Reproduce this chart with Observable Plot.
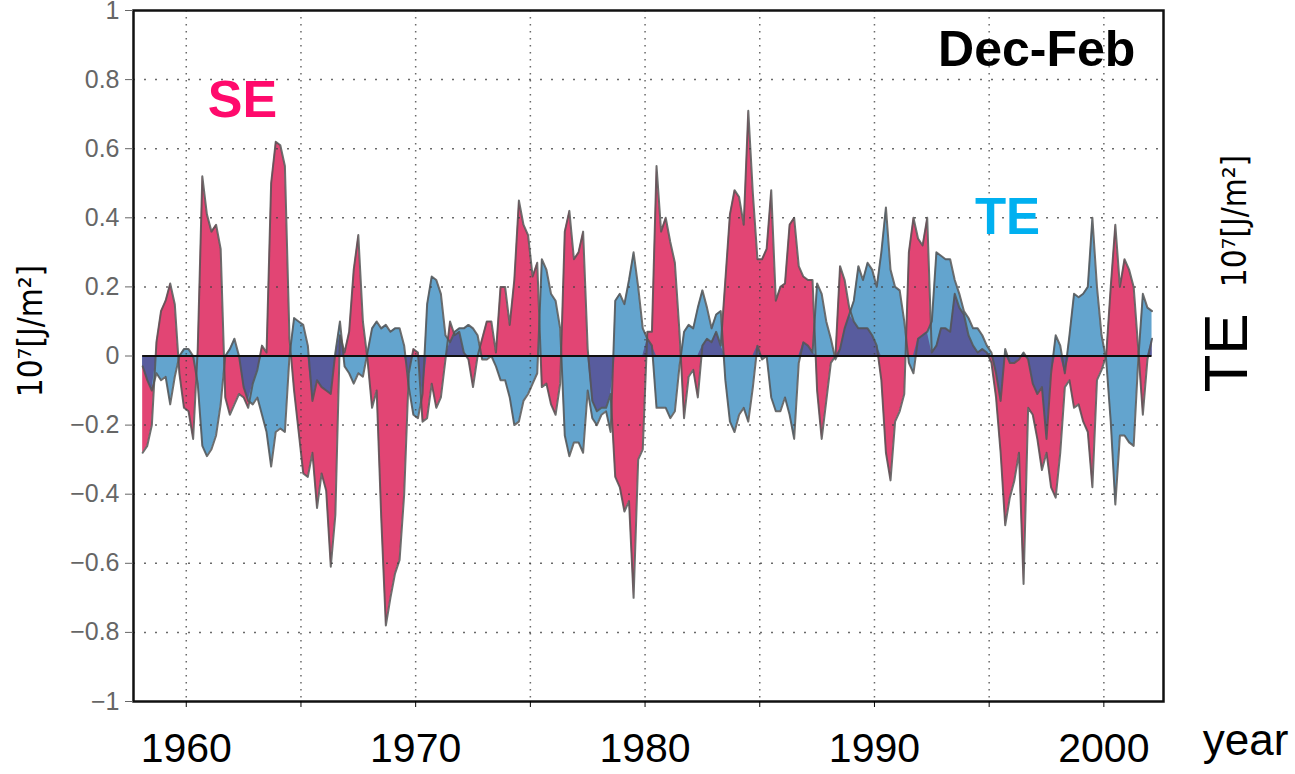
<!DOCTYPE html>
<html><head><meta charset="utf-8">
<script src="https://cdn.jsdelivr.net/npm/d3@7"></script>
<script src="https://cdn.jsdelivr.net/npm/@observablehq/plot@0.6"></script>
<style>body{margin:0;background:#fff;overflow:hidden}</style>
</head><body><div id="chart"></div>
<script>
// sampling: one value every 0.2 year starting 1958.1
const startYear = 1958.1, stepYear = 0.2;

const se = [
 -0.28,-0.26,-0.2,0.04,0.13,
 0.16,0.21,0.15,-0.05,-0.15,
 -0.16,-0.24,0.02,0.52,0.41,
 0.36,0.38,0.31,-0.12,-0.17,
 -0.14,-0.11,-0.12,-0.15,-0.08,
 -0.04,0.03,0.01,0.5,0.62,
 0.61,0.55,0.05,-0.1,-0.22,
 -0.34,-0.35,-0.28,-0.44,-0.34,
 -0.39,-0.61,-0.46,0.06,0.01,
 0.07,0.25,0.35,0.1,-0.01,
 -0.15,-0.1,-0.47,-0.78,-0.70,
 -0.63,-0.59,-0.4,-0.05,0.02,
 0.01,-0.19,-0.18,-0.08,-0.15,
 -0.12,-0.01,0.1,0.06,0.07,
 0.01,-0.01,-0.09,0,0.05,
 0.1,0.1,0.01,0.2,0.2,
 0.09,0.22,0.45,0.38,0.35,
 0.23,0.27,-0.09,-0.08,-0.14,
 -0.17,-0.08,0.36,0.42,0.28,
 0.3,0.36,0.02,-0.13,-0.16,
 -0.15,-0.15,-0.11,-0.35,-0.38,
 -0.45,-0.42,-0.70,-0.3,-0.27,
 0.07,0.07,0.55,0.36,0.40,
 0.33,0.27,0.07,-0.18,-0.06,
 -0.04,-0.12,0.03,0.05,0.04,
 0.07,0.03,0.22,0.41,0.48,
 0.46,0.38,0.71,0.47,0.28,
 0.28,0.31,0.48,0.16,0.2,
 0.21,0.38,0.40,0.26,0.23,
 0.22,0.22,-0.1,-0.24,-0.13,
 -0.02,0,0.26,0.22,0.14,
 0.1,0.08,0.08,0.08,0.06,
 0.03,-0.07,-0.28,-0.36,-0.19,
 -0.16,-0.11,0.3,0.4,0.34,
 0.32,0.4,0.01,0.03,0.08,
 0.08,0.07,0.18,0.14,0.12,
 0.06,0.03,0.01,0.02,0.01,
 -0.02,-0.12,-0.28,-0.49,-0.41,
 -0.36,-0.28,-0.66,-0.15,-0.17,
 -0.24,-0.33,-0.28,-0.38,-0.41,
 -0.28,-0.09,-0.07,-0.15,-0.14,
 -0.19,-0.22,-0.38,-0.07,-0.04,
 0,0.2,0.38,0.2,0.28,
 0.25,0.2,0.02,-0.17,-0.01,
 0.05
];

const te = [
 -0.03,-0.07,-0.1,-0.05,-0.07,
 -0.06,-0.14,-0.06,0.0,0.02,
 0.02,0.0,-0.08,-0.26,-0.29,
 -0.27,-0.23,-0.14,0.0,0.02,
 0.05,0.0,-0.09,-0.13,-0.14,
 -0.12,-0.17,-0.22,-0.32,-0.22,
 -0.21,-0.22,0.0,0.11,0.1,
 0.09,0.03,-0.13,-0.07,-0.09,
 -0.1,-0.11,0.01,0.1,-0.03,
 -0.05,-0.08,-0.05,-0.06,0.01,
 0.08,0.1,0.08,0.09,0.07,
 0.08,0.08,0.03,-0.09,-0.17,
 -0.18,-0.11,0.15,0.23,0.22,
 0.18,0.06,0.04,0.07,0.08,
 0.08,0.09,0.08,0.06,-0.01,
 -0.01,0,-0.03,-0.07,-0.07,
 -0.12,-0.2,-0.19,-0.13,-0.11,
 -0.08,-0.05,0.28,0.25,0.18,
 0.16,0.08,-0.23,-0.29,-0.25,
 -0.25,-0.28,-0.1,-0.18,-0.2,
 -0.17,-0.16,-0.22,0.16,0.18,
 0.15,0.22,0.30,0.2,0.08,
 0.05,0.03,-0.15,-0.15,-0.15,
 -0.18,-0.16,-0.03,0.07,0.09,
 0.08,0.14,0.19,0.14,0.08,
 0.12,0.13,-0.07,-0.19,-0.22,
 -0.17,-0.15,-0.19,-0.09,0.03,
 -0.01,0,-0.12,-0.16,-0.16,
 -0.12,-0.17,-0.24,-0.02,0.04,
 0.03,0.01,0.21,0.18,0.1,
 0.05,-0.01,0.02,0.08,0.12,
 0.16,0.26,0.22,0.27,0.25,
 0.2,0.3,0.43,0.25,0.2,
 0.19,0.1,-0.02,-0.05,0.05,
 0.06,0.07,0.1,0.3,0.29,
 0.28,0.28,0.22,0.18,0.13,
 0.11,0.08,0.08,0.06,0.03,
 0.01,-0.05,-0.13,0.02,-0.02,
 -0.02,-0.01,0.01,-0.01,-0.08,
 -0.11,-0.09,-0.24,-0.05,0.06,
 0.03,-0.05,0.06,0.18,0.17,
 0.18,0.2,0.4,0.2,0.06,
 -0.01,-0.19,-0.43,-0.23,-0.23,
 -0.25,-0.26,-0.01,0.18,0.14,
 0.13
];

const yTicks = [-1,-0.8,-0.6,-0.4,-0.2,0,0.2,0.4,0.6,0.8,1];
const xTicks = [1960,1965,1970,1975,1980,1985,1990,1995,2000];
const xLabels = [1960,1970,1980,1990,2000];
const unitLabel = "10\u2077[J/m\u00B2]";

const rows = se.map((v, i) => {
  const w = te[i];
  const ov = v * w > 0 ? Math.sign(v) * Math.min(Math.abs(v), Math.abs(w)) : 0;
  return {t: startYear + stepYear * i, se: v, te: w, ov};
});

const fmtY = d => d === 0 ? "0" : (d < 0 ? "\u2212" : "") + String(Math.abs(d));
const narrow = "'Liberation Sans Narrow','DejaVu Sans Condensed','Liberation Sans',Arial,sans-serif";

const chart = Plot.plot({
  width: 1295, height: 774,
  marginLeft: 133, marginRight: 132, marginTop: 10, marginBottom: 73,
  style: {fontFamily: "'Liberation Sans', Arial, sans-serif", background: "#fff", overflow: "visible"},
  x: {domain: [1957.7, 2002.6]},
  y: {domain: [-1, 1]},
  marks: [
    Plot.areaY(rows, {x: "t", y: "se", fill: "#e24574"}),
    Plot.areaY(rows, {x: "t", y: "te", fill: "#63a4ce"}),
    Plot.areaY(rows, {x: "t", y: "ov", fill: "#585c9e"}),
    Plot.line(rows, {x: "t", y: "se", stroke: "#555", strokeWidth: 2, strokeOpacity: 0.85}),
    Plot.line(rows, {x: "t", y: "te", stroke: "#555", strokeWidth: 2, strokeOpacity: 0.85}),
    Plot.gridX({ticks: xTicks, stroke: "#444", strokeOpacity: 0.8, strokeWidth: 1.5, strokeDasharray: "1.5,5.5"}),
    Plot.gridY({ticks: yTicks.filter(d => d !== 0 && Math.abs(d) < 1), stroke: "#444", strokeOpacity: 0.8, strokeWidth: 1.5, strokeDasharray: "2,9"}),
    Plot.ruleY([0], {x1: rows[0].t, x2: rows[rows.length - 1].t, stroke: "#111", strokeWidth: 2}),
    Plot.frame({stroke: "#111", strokeWidth: 2.5}),
    Plot.axisY({ticks: yTicks, tickFormat: fmtY, tickSize: 8, tickPadding: 6, fontSize: 25, color: "#666", label: null}),
    Plot.axisX({ticks: xTicks, tickFormat: d => xLabels.includes(d) ? String(d) : "", tickSize: 6, tickPadding: 25, fontSize: 41, color: "#000", label: null}),
    Plot.text(["SE"], {text: d => d, x: 1962.45, y: 0.74, fill: "#ff0a6c", fontSize: 52, fontWeight: "bold", textAnchor: "middle"}),
    Plot.text(["TE"], {text: d => d, x: 1995.8, y: 0.40, fill: "#00b0f0", fontSize: 51, fontWeight: "bold", textAnchor: "middle"}),
    Plot.text(["Dec-Feb"], {text: d => d, x: 1997.07, y: 0.885, fill: "#000", fontSize: 50, fontWeight: "bold", textAnchor: "middle"}),
    Plot.text([unitLabel], {text: d => d, frameAnchor: "left", textAnchor: "middle", dx: -102, dy: -25, rotate: -90, fontSize: 33, fontFamily: narrow, fill: "#000"}),
    Plot.text(["TE"], {text: d => d, frameAnchor: "right", textAnchor: "middle", dx: 64, dy: -3, rotate: -90, fontSize: 62, fill: "#000"}),
    Plot.text([unitLabel], {text: d => d, frameAnchor: "right", textAnchor: "middle", dx: 72, dy: -135, rotate: -90, fontSize: 33, fontFamily: narrow, fill: "#000"}),
    Plot.text(["year"], {text: d => d, frameAnchor: "bottom-right", textAnchor: "middle", dx: 82, dy: 53, fontSize: 44, fill: "#000"})
  ]
});
document.getElementById("chart").appendChild(chart);
</script>
</body></html>
